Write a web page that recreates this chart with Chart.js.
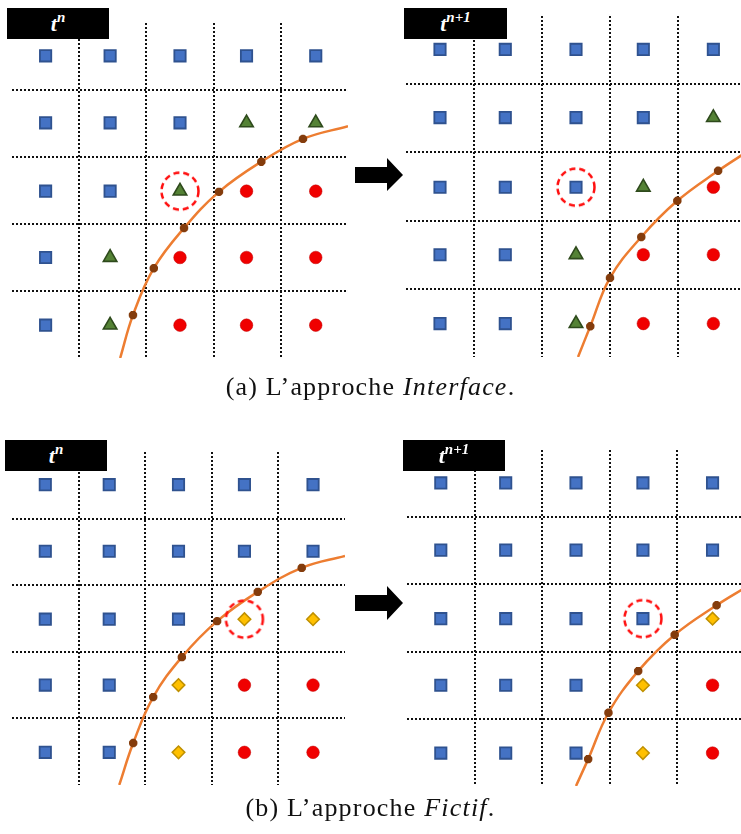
<!DOCTYPE html>
<html>
<head>
  <script src="https://cdn.jsdelivr.net/npm/chart.js@4/dist/chart.umd.min.js"></script>
  <style>
    html, body { margin: 0; padding: 0; background: #fff; }
    body { width: 741px; height: 834px; position: relative; overflow: hidden; }
    canvas { position: absolute; }
    .tag {
      position: absolute; background: #000; color: #fff; height: 31px;
      font-family: 'Liberation Serif', serif; font-style: italic; font-weight: bold;
      font-size: 22px; line-height: 31px; text-align: center; overflow: hidden;
    }
    .tag sup { font-size: 15px; line-height: 0; position: relative; top: -1px; }
    .cap {
      position: absolute; left: 0; width: 741px; text-align: center;
      font-family: 'Liberation Serif', serif; font-size: 26px; letter-spacing: 1.2px; color: #111;
    }
  </style>
</head>
<body>
  <canvas id="pA1" width="336" height="335" style="left:12px;top:23px"></canvas>
  <canvas id="pA2" width="340" height="341" style="left:406px;top:16px"></canvas>
  <canvas id="pB1" width="333" height="333" style="left:12px;top:452px"></canvas>
  <canvas id="pB2" width="338" height="336" style="left:407px;top:450px"></canvas>

  <div class="tag" style="left:7px;top:8px;width:102px">t<sup>n</sup></div>
  <div class="tag" style="left:404px;top:8px;width:103px">t<sup>n+1</sup></div>
  <div class="tag" style="left:5px;top:440px;width:102px">t<sup>n</sup></div>
  <div class="tag" style="left:403px;top:440px;width:102px">t<sup>n+1</sup></div>

  <svg width="741" height="834" style="position:absolute;left:0;top:0">
    <polygon points="355,167 387,167 387,158 403,175 387,191 387,183 355,183" fill="#000"/>
    <polygon points="355,595 387,595 387,586 403,603 387,620 387,611 355,611" fill="#000"/>
  </svg>

  <div class="cap" style="top:372px">(a) L’approche <i>Interface</i>.</div>
  <div class="cap" style="top:793px">(b) L’approche <i>Fictif</i>.</div>

  <script>
    // cell centres (grid units, 5x5 cells, row 0 at top)
    var colCenters = [0.5, 1.46, 2.5, 3.49, 4.52];
    var rowCenters = [0.49, 1.49, 2.51, 3.5, 4.51];

    // S = square (fluid 1), T = triangle (interface), C = circle (fluid 2), D = diamond (ghost)
    var cellsA1 = ['SSSSS', 'SSSTT', 'SSTCC', 'STCCC', 'STCCC'];
    var cellsA2 = ['SSSSS', 'SSSST', 'SSSTC', 'SSTCC', 'SSTCC'];
    var cellsB1 = ['SSSSS', 'SSSSS', 'SSSDD', 'SSDCC', 'SSDCC'];
    var cellsB2 = ['SSSSS', 'SSSSS', 'SSSSD', 'SSSDC', 'SSSDC'];

    // circled cell [col, row]
    var ringA1 = [2, 2];
    var ringA2 = [2, 2];
    var ringB1 = [3, 2];
    var ringB2 = [3, 2];

    // interface curve (first and last are the ends, the rest are marked points)
    var curveA1 = [[1.61, 5.0], [1.80, 4.36], [2.11, 3.66], [2.56, 3.06], [3.08, 2.52], [3.71, 2.07], [4.33, 1.73], [5.0, 1.54]];
    var curveA2 = [[2.53, 5.0], [2.71, 4.55], [3.0, 3.84], [3.46, 3.24], [3.99, 2.71], [4.59, 2.27], [5.0, 2.0]];
    var curveB1 = [[1.61, 5.0], [1.82, 4.37], [2.12, 3.68], [2.55, 3.08], [3.08, 2.54], [3.69, 2.10], [4.35, 1.74], [5.0, 1.56]];
    var curveB2 = [[2.5, 5.0], [2.68, 4.6], [2.98, 3.91], [3.42, 3.29], [3.96, 2.75], [4.58, 2.31], [5.0, 2.05]];

    function ring() {
      var c = document.createElement('canvas');
      c.width = 44; c.height = 44;
      var g = c.getContext('2d');
      g.strokeStyle = '#ff1010';
      g.lineWidth = 2.5;
      g.setLineDash([6, 4]);
      g.beginPath();
      g.arc(22, 22, 18.5, 0, Math.PI * 2);
      g.stroke();
      return c;
    }
    var ringImg = ring();

    function pts(cells, kind) {
      var out = [];
      cells.forEach(function(row, r) {
        row.split('').forEach(function(k, c) {
          if (k === kind) out.push({x: colCenters[c], y: rowCenters[r]});
        });
      });
      return out;
    }

    function xy(arr) {
      return arr.map(function(p) { return {x: p[0], y: p[1]}; });
    }

    function axis(reverse) {
      return {
        min: 0, max: 5, reverse: reverse,
        ticks: {display: false, stepSize: 1},
        grid: {
          drawTicks: false, lineWidth: 2,
          color: function(ctx) {
            var v = ctx.tick ? ctx.tick.value : 0;
            return (v <= 0 || v >= 5) ? 'rgba(0,0,0,0)' : '#111';
          }
        },
        border: {display: false, dash: [2, 2]}
      };
    }

    function panel(id, cells, ringCell, curve) {
      new Chart(document.getElementById(id), {
        type: 'scatter',
        data: {
          datasets: [
            {
              data: xy(curve.slice(1, -1)),
              pointStyle: 'star', pointRadius: 4.2, pointBorderWidth: 3,
              borderColor: '#843c0c', backgroundColor: '#843c0c'
            },
            {
              data: [{x: colCenters[ringCell[0]], y: rowCenters[ringCell[1]]}],
              pointStyle: ringImg, pointRadius: 20
            },
            {
              data: xy(curve), showLine: true, tension: 0.4,
              borderColor: '#ed7d31', borderWidth: 2.5, pointRadius: 0
            },
            {
              data: pts(cells, 'S'), pointStyle: 'rect', pointRadius: 8,
              backgroundColor: '#4472c4', borderColor: '#2f528f', pointBorderWidth: 1.8
            },
            {
              data: pts(cells, 'T'), pointStyle: 'triangle', pointRadius: 7.8,
              backgroundColor: '#548235', borderColor: '#2e4a1c', pointBorderWidth: 1.6
            },
            {
              data: pts(cells, 'C'), pointStyle: 'circle', pointRadius: 6.3,
              backgroundColor: '#f00000', borderColor: '#c00000', pointBorderWidth: 0.5
            },
            {
              data: pts(cells, 'D'), pointStyle: 'rectRot', pointRadius: 6.3,
              backgroundColor: '#ffc000', borderColor: '#bf9000', pointBorderWidth: 1.5
            }
          ]
        },
        options: {
          responsive: false,
          animation: false,
          devicePixelRatio: 1,
          layout: {padding: 0, autoPadding: false},
          plugins: {legend: {display: false}, tooltip: {enabled: false}},
          scales: {x: axis(false), y: axis(true)}
        }
      });
    }

    panel('pA1', cellsA1, ringA1, curveA1);
    panel('pA2', cellsA2, ringA2, curveA2);
    panel('pB1', cellsB1, ringB1, curveB1);
    panel('pB2', cellsB2, ringB2, curveB2);
  </script>
</body>
</html>
